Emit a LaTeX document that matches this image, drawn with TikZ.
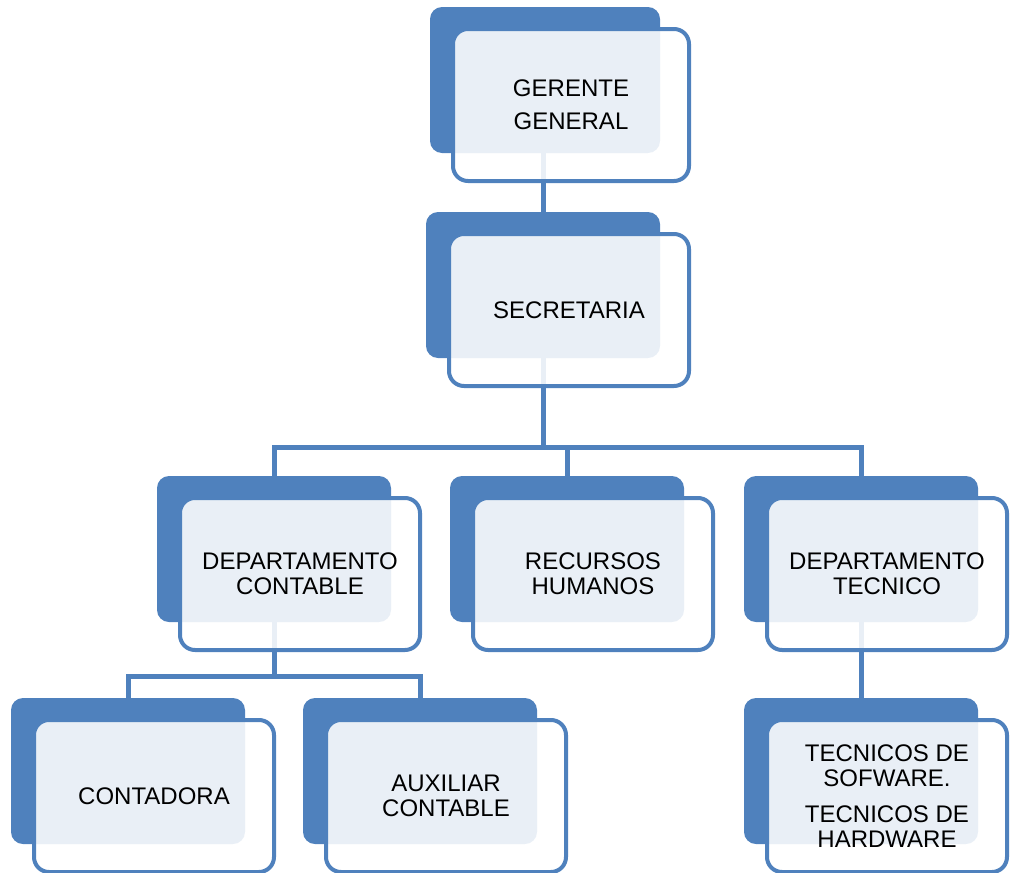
\documentclass[tikz,border=0pt]{standalone}
\usepackage{fontspec}
\setmainfont{Liberation Sans}
\usetikzlibrary{backgrounds}
\definecolor{orgblue}{RGB}{79,129,189}

\begin{document}
\begin{tikzpicture}
    [x=1pt, y=-1pt,
     back/.style={rectangle, rounded corners=12pt, fill=orgblue, draw=none,
       minimum width=234pt, minimum height=146pt},
     front/.style={rectangle, rounded corners=15pt, draw=orgblue, line width=4pt,
       fill=white, fill opacity=0.88, text opacity=1, align=center,
       minimum width=240pt, minimum height=152pt, xshift=26pt, yshift=-25pt,
       font=\fontsize{24}{25}\selectfont},
     link/.style={draw=orgblue, line width=5pt}]
  \useasboundingbox (0,0) rectangle (1013,873);

  % first level
  \node[back, minimum width=230pt] (gerB) at (545,80) {};
  \node[front, minimum width=236pt] (gerF) at (gerB) {GERENTE\\[8pt]GENERAL};

  \node[back] (secB) at (543,285) {};
  \node[front] (secF) at (secB) {SECRETARIA};

  % departments
  \node[back] (contB) at (274,549) {};
  \node[front] (contF) at (contB) {DEPARTAMENTO\\CONTABLE};
  \node[back] (recB) at (567,549) {};
  \node[front] (recF) at (recB) {RECURSOS\\HUMANOS};
  \node[back] (tecB) at (861,549) {};
  \node[front] (tecF) at (tecB) {DEPARTAMENTO\\TECNICO};

  % staff
  \node[back] (contaB) at (128,771) {};
  \node[front] (contaF) at (contaB) {CONTADORA};
  \node[back] (auxB) at (420,771) {};
  \node[front] (auxF) at (auxB) {AUXILIAR\\CONTABLE};
  \node[back] (tecsB) at (861,771) {};
  \node[front] (tecsF) at (tecsB) {TECNICOS DE\\SOFWARE.\\[11pt]TECNICOS DE\\HARDWARE};

  \coordinate (busA) at (543,447);
  \coordinate (busB) at (274,676);

  \begin{pgfonlayer}{background}
  \draw[link] (secB |- gerB) -- (secB);
  \draw[link] (secB) -- (busA) -| (contB);
  \draw[link] (busA) -| (recB);
  \draw[link] (busA) -| (tecB);
  \draw[link] (contB) -- (busB) -| (contaB);
  \draw[link] (busB) -| (auxB);
  \draw[link] (tecB) -- (tecsB);
  \end{pgfonlayer}
\end{tikzpicture}
\end{document}
